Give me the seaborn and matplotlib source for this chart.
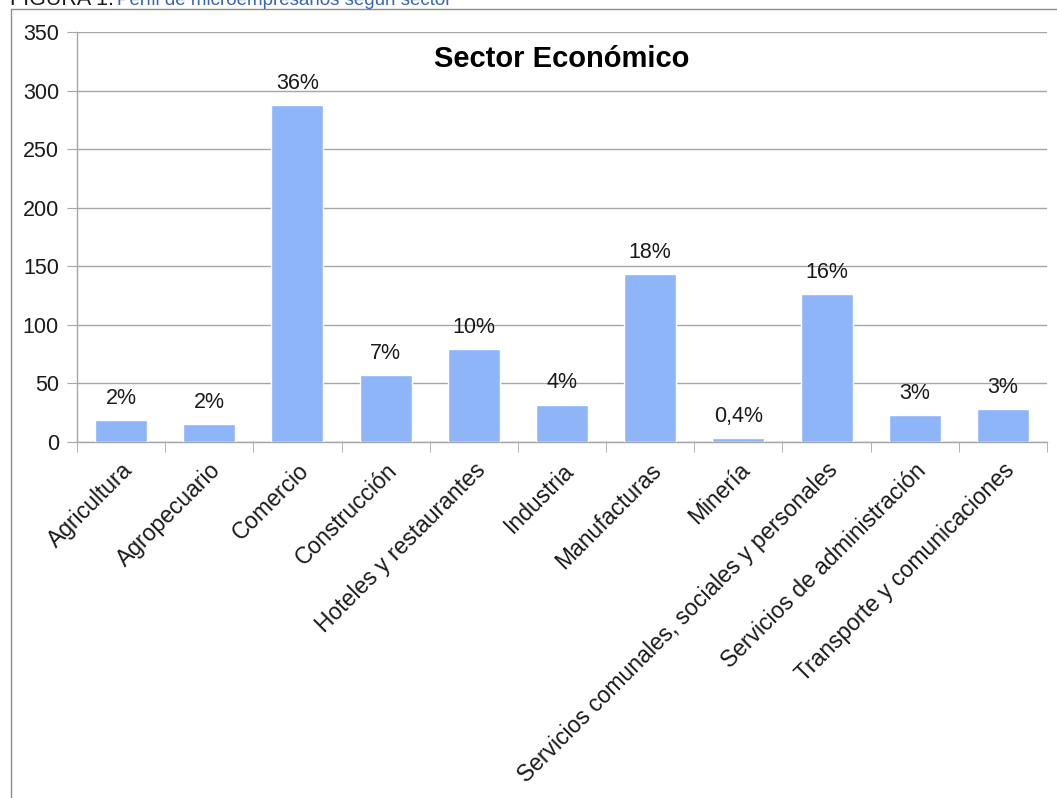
import pandas as pd
import matplotlib
matplotlib.use("Agg")
import matplotlib.pyplot as plt
from matplotlib.patches import Rectangle
import seaborn as sns

# Microempresarios por sector económico
sectores = ['Agricultura', 'Agropecuario', 'Comercio', 'Construcción',
            'Hoteles y restaurantes', 'Industria', 'Manufacturas', 'Minería',
            'Servicios comunales, sociales y personales',
            'Servicios de administración', 'Transporte y comunicaciones']
cantidad = [19, 15, 288, 57, 79, 32, 143, 3, 126, 23, 28]
porcentaje = ['2%', '2%', '36%', '7%', '10%', '4%', '18%', '0,4%', '16%', '3%', '3%']
y_ticks = [0, 50, 100, 150, 200, 250, 300, 350]

df = pd.DataFrame({'Sector': sectores, 'Cantidad': cantidad, 'Etiqueta': porcentaje})

sns.set_style("white")
plt.rcParams['font.family'] = ['Liberation Sans', 'DejaVu Sans']

W, H = 1057, 798
fig = plt.figure(figsize=(W / 100, H / 100), dpi=100)
ax = fig.add_axes([77 / W, 1 - 442 / H, (1047 - 77) / W, (442 - 32) / H])

# outer chart frame (runs off the right and bottom edge)
fig.patches.append(Rectangle((10.5 / W, -0.1), 1.2, 1 - 9.5 / H + 0.1,
                             transform=fig.transFigure, fill=False,
                             edgecolor='#8c8c8c', linewidth=1.0))

# caption, mostly cut off at the top as in the source
fig.text(10 / W, 1 - 5 / H, "FIGURA 1.", fontsize=15.5, color='#1a1a1a', va='baseline')
fig.text(117 / W, 1 - 5 / H, "Perfil de microempresarios según sector",
         fontsize=13.5, color='#3a66ad', va='baseline')

sns.barplot(data=df, x='Sector', y='Cantidad', color='#8fb5f9', saturation=1,
            width=0.59, ax=ax, zorder=3)

for i, row in df.iterrows():
    ax.annotate(row['Etiqueta'], (i, row['Cantidad']), xytext=(0, 8),
                textcoords='offset points', ha='center', va='bottom',
                fontsize=15.5, color='#1a1a1a')

ax.set_ylim(0, 350)
ax.set_xlim(-0.5, len(sectores) - 0.5)
ax.set_yticks(y_ticks)
ax.yaxis.grid(True, color='#a6a6a6', linewidth=1.0, zorder=0)
ax.set_axisbelow(True)
for side in ['top', 'right']:
    ax.spines[side].set_visible(False)
for side in ['left', 'bottom']:
    ax.spines[side].set_color('#a6a6a6')
    ax.spines[side].set_linewidth(1.0)

ax.set_xticks(range(len(sectores)))
ax.set_xticklabels(sectores, rotation=45, ha='right', rotation_mode='anchor')
ax.set_xticks([x - 0.5 for x in range(len(sectores) + 1)], minor=True)
ax.tick_params(axis='x', which='major', length=0, pad=12, labelsize=16.5, labelcolor='#1a1a1a')
ax.tick_params(axis='x', which='minor', length=7, color='#a6a6a6', direction='out', bottom=True)
ax.tick_params(axis='y', length=7, color='#a6a6a6', direction='out', left=True,
               pad=6, labelsize=15.5, labelcolor='#1a1a1a')
ax.set_xlabel('')
ax.set_ylabel('')

ax.text(0.5, 0.935, "Sector Económico", transform=ax.transAxes, ha='center', va='center',
        fontsize=21, fontweight='bold', color='#000000')

fig.savefig('out.png', dpi=100)
